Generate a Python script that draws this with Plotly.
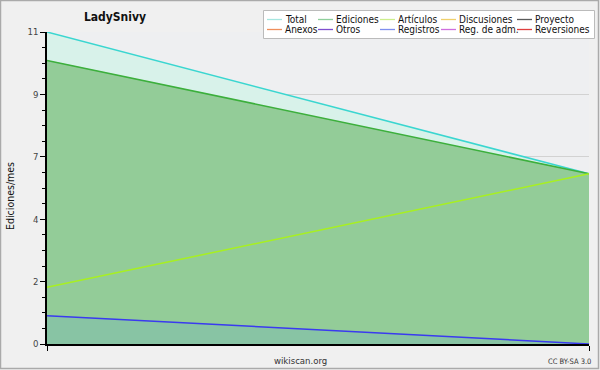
import plotly.graph_objects as go

# ---- data ----
months = ["2020-01", "2020-02"]
total = [11, 6]
ediciones = [10, 6]
articulos = [2, 6]
registros = [1, 0]

y_tickvals = [0, 2.2, 4.4, 6.6, 8.8, 11]
y_ticktext = ["0", "2", "4", "7", "9", "11"]

legend_names = ["Total", "Ediciones", "Artículos", "Discusiones", "Proyecto",
                "Anexos", "Otros", "Registros", "Reg. de adm.", "Reversiones"]
legend_colors = ["#a6e6e0", "#8fcf9c", "#cdee8c", "#efd06c", "#5a5a5a",
                 "#ef8f5c", "#7f4fcf", "#7f8fef", "#cf6fdf", "#df3f3f"]

FONT = "DejaVu Sans Condensed, DejaVu Sans, sans-serif"

# plot area in pixels
L, R, T, B = 47, 589, 32, 344
W, H = 600, 370


def px(x):
    return (x - L) / (R - L)


def py(y):
    return (B - y) / (B - T)


fig = go.Figure()

fig.add_trace(go.Scatter(x=months, y=total, mode="lines", fill="tozeroy",
                         line=dict(color="#3ad6d0", width=1.5),
                         fillcolor="#d8f2ea", showlegend=False, hoverinfo="skip"))
fig.add_trace(go.Scatter(x=months, y=ediciones, mode="lines", fill="tozeroy",
                         line=dict(color="#3caf3c", width=1.5),
                         fillcolor="#93cc98", showlegend=False, hoverinfo="skip"))
fig.add_trace(go.Scatter(x=months, y=articulos, mode="lines",
                         line=dict(color="#a8f020", width=1.5),
                         showlegend=False, hoverinfo="skip"))
fig.add_trace(go.Scatter(x=months, y=registros, mode="lines", fill="tozeroy",
                         line=dict(color="#3a3af0", width=1.5),
                         fillcolor="#88c4a4", showlegend=False, hoverinfo="skip"))

shapes = []
annotations = []

# outer border of the image
shapes.append(dict(type="rect", xref="paper", yref="paper",
                   x0=px(0.5), x1=px(W - 1.5), y0=py(H - 1.5), y1=py(0.5),
                   line=dict(color="#aaaaaa", width=1.5), layer="below"))

# manual legend
shapes.append(dict(type="rect", xref="paper", yref="paper",
                   x0=px(263.5), x1=px(594.5), y0=py(38.5), y1=py(10.5),
                   line=dict(color="#bbbbbb", width=1), fillcolor="#ffffff", layer="above"))
col_x = [267, 318, 380, 441, 517]
row_y = [19.5, 29.5]
for i, (name, color) in enumerate(zip(legend_names, legend_colors)):
    r, c = divmod(i, 5)
    x0 = col_x[c]
    y = row_y[r]
    shapes.append(dict(type="line", xref="paper", yref="paper",
                       x0=px(x0), x1=px(x0 + 15), y0=py(y), y1=py(y),
                       line=dict(color=color, width=1.3), layer="above"))
    annotations.append(dict(text=name, xref="paper", yref="paper",
                            x=px(x0 + 16), y=py(y), xanchor="left", yanchor="middle",
                            showarrow=False, font=dict(family=FONT, size=10, color="#111111")))

# y-axis title
annotations.append(dict(text="Ediciones/mes", xref="paper", yref="paper",
                        x=px(10), y=py(196), textangle=-90, xanchor="center", yanchor="middle",
                        showarrow=False, font=dict(family=FONT, size=10.5, color="#111111")))
# footer texts
annotations.append(dict(text="wikiscan.org", xref="paper", yref="paper",
                        x=px(300), y=py(360), xanchor="center", yanchor="middle",
                        showarrow=False, font=dict(family=FONT, size=9.5, color="#333333")))
annotations.append(dict(text="CC BY-SA 3.0", xref="paper", yref="paper",
                        x=px(569), y=py(361), xanchor="center", yanchor="middle",
                        showarrow=False, font=dict(family=FONT, size=7.5, color="#333333")))

fig.update_layout(
    width=W, height=H,
    margin=dict(l=L, r=W - R, t=T, b=H - B, pad=0),
    paper_bgcolor="#f0f0f0",
    plot_bgcolor="#eeeff1",
    title=dict(text="<b>LadySnivy</b>", x=115 / W, y=1 - 17 / H, xanchor="center", yanchor="middle",
               font=dict(family=FONT, size=12, color="#111111")),
    showlegend=False,
    shapes=shapes,
    annotations=annotations,
    xaxis=dict(type="category", range=[0, 1], tickvals=months, showticklabels=False,
               ticks="outside", ticklen=5, tickcolor="#000000", showgrid=False,
               showline=True, linecolor="#000000", linewidth=1.5, zeroline=False,
               fixedrange=True),
    yaxis=dict(range=[0, 11], tickvals=y_tickvals, ticktext=y_ticktext,
               ticks="outside", ticklen=5, tickcolor="#000000",
               tickfont=dict(family=FONT, size=9.5, color="#444444"),
               showgrid=True, gridcolor="#d2d2d2", gridwidth=1,
               showline=True, linecolor="#000000", linewidth=1.5, zeroline=False,
               minor=dict(tickvals=[i * 0.55 for i in range(21)], ticks="outside", ticklen=3,
                          tickcolor="#000000", showgrid=False),
               fixedrange=True),
)

fig.write_html("out.html", config={"displayModeBar": False},
               post_script="document.body.style.margin='0';document.body.style.overflow='hidden';")
